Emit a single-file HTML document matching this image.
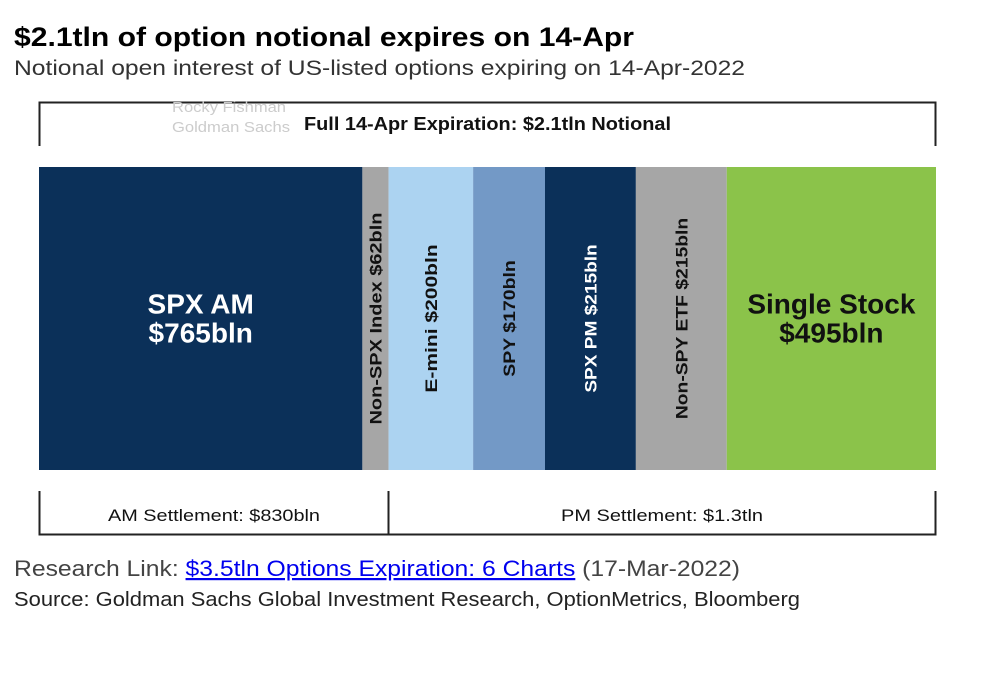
<!DOCTYPE html>
<html><head><meta charset="utf-8">
<style>
body{margin:0;background:#fff;width:1000px;height:685px;overflow:hidden;font-family:"Liberation Sans",Arial,sans-serif}
</style></head>
<body>
<svg id="chart" width="1000" height="685" xmlns="http://www.w3.org/2000/svg">
<text x="14" y="46" font-size="27" font-weight="bold" fill="#000" textLength="620" lengthAdjust="spacingAndGlyphs">$2.1tln of option notional expires on 14-Apr</text>
<text x="14" y="75" font-size="21" fill="#333" textLength="731" lengthAdjust="spacingAndGlyphs">Notional open interest of US-listed options expiring on 14-Apr-2022</text>
<path d="M39.5 146 V102.5 H935.5 V146" fill="none" stroke="#222" stroke-width="2"/>
<text x="172" y="112" font-size="15" fill="#ccc" textLength="114" lengthAdjust="spacingAndGlyphs">Rocky Fishman</text>
<text x="172" y="132" font-size="15" fill="#ccc" textLength="118" lengthAdjust="spacingAndGlyphs">Goldman Sachs</text>
<text x="304" y="130" font-size="18" font-weight="bold" fill="#111" textLength="367" lengthAdjust="spacingAndGlyphs">Full 14-Apr Expiration: $2.1tln Notional</text>
<g id="bars"></g>
<path d="M39.5 491 V534.5 H935.5 V491 M388.5 491 V534.5" fill="none" stroke="#222" stroke-width="2"/>
<text x="108" y="521" font-size="17" fill="#111" textLength="212" lengthAdjust="spacingAndGlyphs">AM Settlement: $830bln</text>
<text x="561" y="521" font-size="17" fill="#111" textLength="202" lengthAdjust="spacingAndGlyphs">PM Settlement: $1.3tln</text>
<text x="14" y="576" font-size="22" fill="#444" textLength="726" lengthAdjust="spacingAndGlyphs">Research Link: <tspan fill="#0000ee" text-decoration="underline">$3.5tln Options Expiration: 6 Charts</tspan> (17-Mar-2022)</text>
<text x="14" y="606" font-size="20" fill="#222" textLength="786" lengthAdjust="spacingAndGlyphs">Source: Goldman Sachs Global Investment Research, OptionMetrics, Bloomberg</text>
</svg>
<script>
const categories=["SPX AM","Non-SPX Index","E-mini","SPY","SPX PM","Non-SPY ETF","Single Stock"];
const values=[765,62,200,170,215,215,495];
const colors=["#0b3059","#a6a6a6","#acd3f1","#7399c6","#0b3059","#a6a6a6","#8bc34a"];
const X0=39,X1=936,Y0=167,Y1=470;
const total=values.reduce((a,b)=>a+b,0);
const xs=v=>(v/total)*(X1-X0);
const g=document.getElementById('bars');
const NS="http://www.w3.org/2000/svg";
let cx=X0;
categories.forEach((c,i)=>{
  const w=xs(values[i]);
  const r=document.createElementNS(NS,'rect');
  r.setAttribute('x',cx);r.setAttribute('y',Y0);r.setAttribute('width',w);r.setAttribute('height',Y1-Y0);r.setAttribute('fill',colors[i]);
  
  
  g.appendChild(r);
  const mid=cx+w/2, my=(Y0+Y1)/2;
  const dark=(colors[i]==="#0b3059");
  const fill=dark?"#fff":"#111";
  const label=`${c} $${values[i]}bln`;
  if(w>150){
    [c,`$${values[i]}bln`].forEach((t,k)=>{
      const tx=document.createElementNS(NS,'text');
      tx.setAttribute('x',mid);tx.setAttribute('y',my+(k===0?-5:24));
      tx.setAttribute('text-anchor','middle');tx.setAttribute('font-size','28');tx.setAttribute('font-weight','bold');tx.setAttribute('fill',fill);
      tx.textContent=t;
      
      
      g.appendChild(tx);
    });
  } else {
    const tx=document.createElementNS(NS,'text');
    tx.setAttribute('x',0);tx.setAttribute('y',0);
    tx.setAttribute('transform',`translate(${mid+6},${my}) rotate(-90)`);
    tx.setAttribute('text-anchor','middle');tx.setAttribute('font-size','17');tx.setAttribute('font-weight','bold');tx.setAttribute('fill',fill);
    tx.setAttribute('textLength',label.length*10.6);tx.setAttribute('lengthAdjust','spacingAndGlyphs');
    tx.textContent=label;
    
    
    g.appendChild(tx);
  }
  cx+=w;
});
</script>
</body></html>
